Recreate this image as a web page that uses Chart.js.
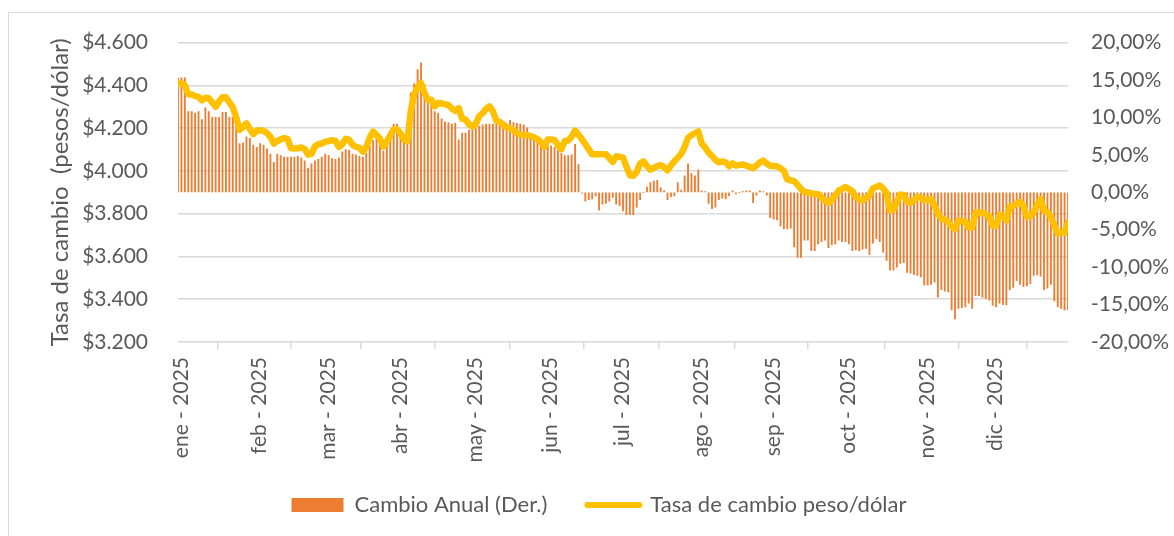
<!DOCTYPE html>
<html>
<head>
<meta charset="utf-8">
<script src="https://cdn.jsdelivr.net/npm/chart.js@4.4.1/dist/chart.umd.min.js"></script>
<style>
html,body{margin:0;padding:0;background:#fff;}
canvas{display:block;}
</style>
</head>
<body>
<canvas id="c" width="1174" height="536"></canvas>
<script>
// ---- categories: months and trading days (day of month) ----
const meses = ['ene','feb','mar','abr','may','jun','jul','ago','sep','oct','nov','dic'];
const diasHabiles = [
  [1,2,3,6,7,8,9,10,13,14,15,16,17,20,21,22,23,24,27,28,29,30,31],
  [3,4,5,6,7,10,11,12,13,14,17,18,19,20,21,24,25,26,27,28],
  [3,4,5,6,7,10,11,12,13,14,17,18,19,20,21,24,25,26,27,28,31],
  [1,2,3,4,7,8,9,10,11,14,15,16,17,18,21,22,23,24,25,28,29,30],
  [1,2,5,6,7,8,9,12,13,14,15,16,19,20,21,22,23,26,27,28,29,30],
  [2,3,4,5,6,9,10,11,12,13,16,17,18,19,20,23,24,25,26,27,30],
  [1,2,3,4,7,8,9,10,11,14,15,16,17,18,21,22,23,24,25,28,29,30,31],
  [1,4,5,6,7,8,11,12,13,14,15,18,19,20,21,22,25,26,27,28,29],
  [1,2,3,4,5,8,9,10,11,12,15,16,17,18,19,22,23,24,25,26,29,30],
  [1,2,3,6,7,8,9,10,13,14,15,16,17,20,21,22,23,24,27,28,29,30,31],
  [3,4,5,6,7,10,11,12,13,14,17,18,19,20,21,24,25,26,27,28],
  [1,2,3,4,5,8,9,10,11,12,15,16,17,18,19,22,23,24,25,26,29,30,31]
];

// ---- series: exchange rate (pesos per dollar), one value per trading day ----
const tasa = [
  4410,4410,4400,4358,4357,4350,4346,4330,4342,4340,4320,4300,4325,4344,4344,4320,4298,4250,4192,4205,4222,4195,4172,
  4188,4190,4187,4177,4160,4128,4140,4148,4153,4150,4106,4105,4106,4110,4103,4076,4080,4115,4125,4127,
  4137,4139,4144,4140,4112,4125,4150,4145,4122,4113,4108,4090,4110,4155,4184,4168,4150,4114,4137,4165,4194,
  4194,4175,4147,4138,4279,4360,4390,4411,4365,4333,4333,4302,4318,4316,4311,4308,4292,4281,4293,4244,4241,4218,
  4207,4220,4256,4270,4290,4302,4279,4235,4229,4217,4203,4200,4190,4177,4169,4168,4167,4163,4157,4149,4135,4112,
  4147,4147,4144,4120,4102,4140,4142,4160,4188,4170,4148,4125,4100,4078,4078,4078,4078,4078,4060,4042,4068,
  4066,4062,4020,3980,3977,3995,4035,4045,4022,4006,4014,4022,4027,4018,4003,4025,4045,4062,4080,4112,4155,4167,4176,
  4185,4128,4110,4085,4070,4052,4040,4044,4040,4022,4035,4025,4028,4030,4025,4018,4012,4025,4040,4048,4035,
  4023,4023,4022,4012,4000,3960,3956,3952,3935,3915,3902,3899,3896,3892,3891,3875,3862,3850,3865,3885,3908,3915,
  3925,3915,3905,3878,3868,3862,3875,3885,3918,3925,3932,3918,3898,3814,3820,3855,3890,3888,3856,3851,3862,3878,3875,
  3862,3865,3868,3838,3800,3777,3772,3763,3740,3728,3767,3767,3760,3735,3735,3806,3806,3806,3796,3787,
  3744,3744,3795,3790,3770,3832,3836,3846,3855,3836,3785,3789,3805,3840,3868,3812,3808,3785,3745,3708,3712,3712,3760
];

// ---- series: annual change (%), one value per trading day ----
const cambioAnual = [
  15.3,15.3,15.3,10.8,10.8,10.6,10.8,9.7,11.3,10.8,10.0,10.0,10.0,10.7,10.7,10.0,10.0,8.8,6.5,6.6,7.4,7.2,6.3,
  6.0,6.5,6.3,5.8,5.1,4.0,5.1,4.9,4.7,4.7,4.7,4.7,4.8,4.6,4.2,3.2,3.8,4.2,4.4,4.7,
  5.1,4.9,4.5,4.4,4.6,5.4,5.7,5.6,5.1,5.0,4.8,4.7,5.2,6.2,6.9,7.1,6.5,5.5,6.4,8.0,9.1,
  9.1,7.5,6.8,6.8,13.3,14.5,16.4,17.3,14.4,12.4,12.2,10.8,10.6,9.8,9.4,9.3,9.1,9.2,7.0,7.9,7.9,8.3,
  8.4,8.5,8.8,9.0,9.1,9.1,9.1,9.1,9.0,8.8,8.7,9.6,9.3,9.2,9.1,9.0,8.6,7.9,7.4,7.0,6.4,6.2,
  6.3,6.2,6.0,5.6,5.2,4.9,4.9,5.0,6.4,3.7,-0.1,-1.2,-1.0,-0.9,-0.5,-2.4,-1.6,-1.5,-1.2,-0.7,-1.6,
  -1.8,-2.5,-3.0,-3.0,-3.0,-2.0,-1.0,0.0,0.7,1.3,1.5,1.6,0.6,0.2,-1.0,-0.6,-0.5,1.3,0.3,2.2,3.8,2.5,2.2,
  3.0,0.2,0.1,-1.5,-2.2,-2.0,-1.0,-0.8,-0.9,-0.5,0.2,-0.2,0.0,0.1,0.2,0.2,-1.4,-0.4,0.2,0.1,-0.4,
  -3.4,-3.6,-3.7,-4.5,-4.9,-4.9,-4.8,-7.3,-8.7,-8.7,-6.4,-6.4,-7.8,-7.8,-6.9,-6.6,-6.4,-7.4,-7.0,-6.9,-6.4,-6.6,
  -6.6,-6.9,-7.8,-7.7,-7.8,-7.6,-7.5,-8.3,-6.8,-6.2,-6.6,-8.0,-9.1,-10.4,-10.4,-10.0,-9.5,-9.4,-10.7,-10.8,-11.0,-11.1,-11.3,
  -12.4,-12.4,-12.3,-12.0,-14.0,-13.0,-13.2,-13.3,-15.7,-16.9,-15.5,-15.4,-15.3,-14.8,-15.5,-13.8,-13.8,-14.0,-14.2,-14.4,
  -15.1,-15.3,-14.8,-15.0,-15.0,-13.0,-12.7,-11.8,-12.3,-12.6,-12.5,-12.2,-11.1,-11.0,-11.2,-13.0,-12.8,-12.3,-14.5,-15.3,-15.5,-15.7,-15.7
];

// ---- tick labels ----
const etiquetasMes = meses.map(m => m + ' - 2025');
const ticksIzq = [3200,3400,3600,3800,4000,4200,4400,4600];
const ticksDer = [-20,-15,-10,-5,0,5,10,15,20];

// trading-day categories -> index positions; first trading day of each month carries the month tick
const fechas = [];
const inicioMesIdx = [];
diasHabiles.forEach((dias, m) => {
  inicioMesIdx.push(fechas.length);
  dias.forEach(d => fechas.push({ m, d }));
});
const ultimoIdx = fechas.length - 1;
const ptsTasa = fechas.map((f, i) => ({ x: i, y: tasa[i] }));
const ptsCambio = fechas.map((f, i) => ({ x: i, y: cambioAnual[i] }));

const FONT = 'Lato';
const GRIS = '#595959';
const fmtPeso = v => '$' + String(v).replace(/\B(?=(\d{3})+(?!\d))/g, '.');
const fmtPct = v => v.toFixed(2).replace('.', ',') + '%';

const borde = {
  id: 'borde',
  beforeDraw(chart) {
    const c = chart.ctx;
    c.save();
    c.fillStyle = '#fff';
    c.fillRect(0, 0, chart.width, chart.height);
    c.strokeStyle = '#d9d9d9';
    c.lineWidth = 1;
    c.strokeRect(8.5, 12.5, 1400, 800);
    c.restore();
  },
  afterLayout(chart) {
    // nudge the legend block to the right, as in the original layout
    chart.legend.left += 12;
    chart.legend.right += 12;
  }
};

new Chart(document.getElementById('c'), {
  type: 'bar',
  data: {
    datasets: [
      {
        type: 'bar',
        label: 'Cambio Anual (Der.)',
        data: ptsCambio,
        yAxisID: 'y1',
        backgroundColor: '#ED7D31',
        barThickness: 1.2,
        order: 2
      },
      {
        type: 'line',
        label: 'Tasa de cambio peso/dólar',
        data: ptsTasa,
        yAxisID: 'y',
        borderColor: '#FFC000',
        backgroundColor: '#FFC000',
        borderWidth: 6.5,
        pointRadius: 0,
        tension: 0,
        borderJoinStyle: 'round',
        borderCapStyle: 'round',
        order: 1
      }
    ]
  },
  options: {
    responsive: false,
    animation: false,
    events: [],
    layout: { padding: { top: 41, left: 0, right: 0, bottom: 10 } },
    plugins: {
      tooltip: { enabled: false },
      legend: {
        position: 'bottom',
        labels: {
          usePointStyle: true,
          pointStyleWidth: 52,
          boxHeight: 14,
          padding: 40,
          color: GRIS,
          font: { family: FONT, size: 22 },
          generateLabels: () => [
            { text: 'Cambio Anual (Der.)', fillStyle: '#ED7D31', strokeStyle: '#ED7D31', lineWidth: 0, pointStyle: 'rect', datasetIndex: 0, fontColor: GRIS },
            { text: 'Tasa de cambio peso/dólar', fillStyle: '#FFC000', strokeStyle: '#FFC000', lineWidth: 6, lineCap: 'round', pointStyle: 'line', datasetIndex: 1, fontColor: GRIS }
          ]
        }
      }
    },
    scales: {
      x: {
        type: 'linear',
        min: 0,
        max: ultimoIdx,
        offset: false,
        grid: { display: true, drawOnChartArea: false, drawTicks: true, tickLength: 7, color: '#d9d9d9', lineWidth: 1.5 },
        border: { display: false },
        ticks: {
          autoSkip: false, minRotation: 90, maxRotation: 90, padding: 8, labelOffset: 3,
          color: GRIS, font: { family: FONT, size: 21 },
          callback: v => { const i = inicioMesIdx.indexOf(v); return i >= 0 ? etiquetasMes[i] : ''; }
        },
        afterBuildTicks: s => { s.ticks = inicioMesIdx.map(v => ({ value: v })); },
        afterFit: s => {
          s.height = 112;
          s._computeLabelArea = () => undefined; // let the rotated month labels extend past the axis box
        }
      },
      y: {
        position: 'left',
        min: 3200, max: 4600,
        grid: { color: '#d9d9d9', lineWidth: 1.5, drawTicks: false },
        border: { display: false },
        ticks: { padding: 30, color: GRIS, font: { family: FONT, size: 21 }, callback: v => fmtPeso(v) },
        afterBuildTicks: s => { s.ticks = ticksIzq.map(v => ({ value: v })); },
        title: { display: true, text: 'Tasa de cambio  (pesos/dólar)', color: GRIS, font: { family: FONT, size: 24 }, padding: { top: 46, bottom: 0 } },
        afterFit: s => { s.width = 178; }
      },
      y1: {
        position: 'right',
        min: -20, max: 20,
        grid: { drawOnChartArea: false, drawTicks: false },
        border: { display: false },
        ticks: { padding: 23, color: GRIS, font: { family: FONT, size: 21 }, callback: v => fmtPct(v) },
        afterBuildTicks: s => { s.ticks = ticksDer.map(v => ({ value: v })); },
        afterFit: s => { s.width = 106; }
      }
    }
  },
  plugins: [borde]
});
</script>
</body>
</html>
